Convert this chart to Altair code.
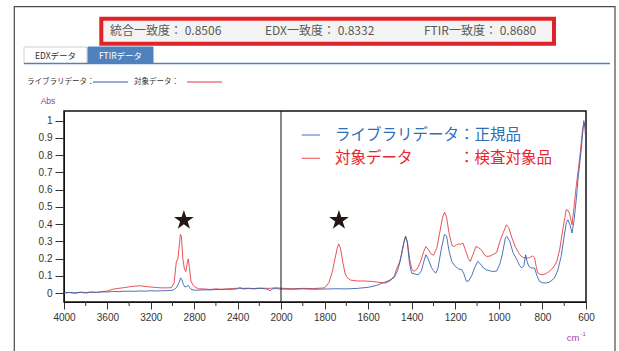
import altair as alt
import pandas as pd

# ---- spectra: wavenumber (cm-1) and absorbance ----
lib_wn = [4000, 3950, 3900, 3850, 3800, 3750, 3700, 3650, 3600, 3550, 3500, 3450, 3400,
          3350, 3300, 3250, 3200, 3150, 3100, 3050, 3000, 2980, 2960, 2940, 2925, 2915,
          2900, 2885, 2870, 2855, 2845, 2830, 2810, 2780, 2750, 2700, 2650, 2600, 2550,
          2500, 2450, 2400, 2380, 2350, 2300, 2250, 2200, 2150, 2120, 2100, 2080, 2050,
          2020, 2000, 1950, 1900, 1850, 1800, 1750, 1700, 1650, 1600, 1560, 1530, 1500,
          1480, 1465, 1455, 1445, 1435, 1428, 1420, 1410, 1400, 1385, 1370, 1355, 1345,
          1335, 1325, 1310, 1300, 1290, 1280, 1265, 1250, 1240, 1228, 1215, 1200, 1185,
          1170, 1160, 1150, 1140, 1125, 1110, 1097, 1085, 1070, 1057, 1040, 1025, 1010,
          995, 985, 970, 963, 950, 935, 920, 905, 895, 885, 877, 870, 862, 850, 836, 825,
          813, 800, 783, 765, 745, 730, 714, 700, 690, 683, 672, 664, 655, 645, 635, 622,
          615, 610, 605, 600]
lib_abs = [0.002, 0.004, 0.001, 0.005, 0.003, 0.006, 0.004, 0.007, 0.006, 0.009, 0.008,
           0.010, 0.011, 0.010, 0.012, 0.011, 0.013, 0.012, 0.013, 0.014, 0.016, 0.022,
           0.035, 0.060, 0.088, 0.080, 0.050, 0.035, 0.038, 0.045, 0.035, 0.022, 0.018,
           0.016, 0.017, 0.019, 0.018, 0.021, 0.020, 0.022, 0.021, 0.025, 0.028, 0.024,
           0.026, 0.024, 0.027, 0.025, 0.022, 0.012, 0.024, 0.026, 0.024, 0.023, 0.022,
           0.024, 0.022, 0.023, 0.025, 0.024, 0.027, 0.033, 0.045, 0.060, 0.075, 0.090,
           0.130, 0.175, 0.240, 0.300, 0.328, 0.290, 0.170, 0.115, 0.110, 0.105, 0.130,
           0.180, 0.222, 0.200, 0.150, 0.130, 0.115, 0.140, 0.250, 0.340, 0.330, 0.240,
           0.180, 0.155, 0.140, 0.135, 0.110, 0.070, 0.068, 0.100, 0.150, 0.183, 0.170,
           0.145, 0.135, 0.128, 0.125, 0.128, 0.170, 0.220, 0.320, 0.328, 0.300, 0.235,
           0.200, 0.160, 0.145, 0.160, 0.222, 0.180, 0.154, 0.145, 0.145, 0.100, 0.067,
           0.060, 0.058, 0.065, 0.087, 0.130, 0.212, 0.330, 0.410, 0.425, 0.390, 0.348,
           0.420, 0.540, 0.680, 0.830, 0.930, 1.000, 0.960, 0.870]

tgt_wn = [4000, 3950, 3900, 3850, 3800, 3750, 3700, 3650, 3600, 3550, 3500, 3450, 3400,
          3350, 3300, 3250, 3200, 3150, 3100, 3050, 3010, 2985, 2965, 2950, 2940, 2928,
          2918, 2905, 2890, 2878, 2865, 2855, 2845, 2830, 2810, 2795, 2760, 2700, 2650,
          2600, 2550, 2500, 2450, 2400, 2380, 2350, 2300, 2250, 2200, 2150, 2100, 2050,
          2000, 1950, 1900, 1850, 1800, 1780, 1765, 1752, 1742, 1735, 1727, 1715, 1705,
          1695, 1680, 1650, 1620, 1580, 1550, 1520, 1500, 1480, 1465, 1455, 1445, 1435,
          1428, 1420, 1410, 1400, 1390, 1375, 1360, 1345, 1335, 1325, 1310, 1300, 1285,
          1270, 1258, 1249, 1240, 1229, 1215, 1205, 1195, 1185, 1175, 1165, 1155, 1140,
          1131, 1120, 1105, 1095, 1080, 1065, 1055, 1040, 1025, 1010, 995, 980, 965, 955,
          940, 925, 910, 897, 885, 874, 860, 845, 836, 828, 821, 810, 798, 780, 765, 752,
          735, 721, 705, 691, 683, 676, 664, 655, 645, 630, 615, 607, 600]
tgt_abs = [0.000, 0.003, -0.002, 0.004, 0.000, 0.005, 0.003, 0.008, 0.012, 0.022, 0.027,
           0.031, 0.036, 0.040, 0.042, 0.038, 0.035, 0.032, 0.030, 0.030, 0.031, 0.060,
           0.180, 0.200, 0.260, 0.340, 0.330, 0.200, 0.140, 0.125, 0.170, 0.198, 0.150,
           0.070, 0.045, 0.035, 0.025, 0.023, 0.021, 0.024, 0.022, 0.024, 0.026, 0.028,
           0.031, 0.027, 0.028, 0.026, 0.029, 0.028, 0.027, 0.031, 0.028, 0.025, 0.027,
           0.026, 0.030, 0.060, 0.120, 0.200, 0.260, 0.285, 0.260, 0.170, 0.110, 0.088,
           0.075, 0.070, 0.070, 0.067, 0.062, 0.058, 0.070, 0.100, 0.155, 0.180, 0.230,
           0.300, 0.330, 0.300, 0.200, 0.140, 0.125, 0.140, 0.180, 0.240, 0.270, 0.255,
           0.225, 0.220, 0.260, 0.360, 0.440, 0.469, 0.440, 0.350, 0.275, 0.270, 0.280,
           0.285, 0.282, 0.290, 0.255, 0.200, 0.183, 0.220, 0.270, 0.265, 0.250, 0.220,
           0.212, 0.215, 0.225, 0.235, 0.300, 0.350, 0.396, 0.380, 0.320, 0.270, 0.235,
           0.212, 0.205, 0.203, 0.205, 0.215, 0.205, 0.150, 0.116, 0.108, 0.106, 0.115,
           0.130, 0.145, 0.180, 0.250, 0.380, 0.483, 0.480, 0.463, 0.396, 0.500, 0.618,
           0.772, 0.956, 0.985, 0.930]

series_colors = ["#2f5cab", "#e8343a"]

x_major = [4000, 3600, 3200, 2800, 2400, 2000, 1800, 1600, 1400, 1200, 1000, 800, 600]
x_minor = [3800, 3400, 3000, 2600, 2200, 1900, 1700, 1500, 1300, 1100, 900, 700]
y_ticks = [0, 0.1, 0.2, 0.3, 0.4, 0.5, 0.6, 0.7, 0.8, 0.9, 1]
split_wn = [2000]

star_wn = [2895, 1734]
star_abs = [0.422, 0.422]
STAR_PATH = ("M0,-1L0.2245,-0.309L0.951,-0.309L0.363,0.118L0.588,0.809L0,0.382"
             "L-0.588,0.809L-0.363,0.118L-0.951,-0.309L-0.2245,-0.309Z")

PLOT_W, PLOT_H = 522, 191
JP = "Noto Sans CJK JP"
NUM = "Liberation Sans"

lib_df = pd.DataFrame({"wn": lib_wn, "abs": lib_abs})
tgt_df = pd.DataFrame({"wn": tgt_wn, "abs": tgt_abs})

# wavenumber axis: 4000-2000 compressed to half the scale of 2000-600
x_enc = alt.X(
    "wn:Q",
    scale=alt.Scale(domain=[4000, 2000, 600], range=[0, 217, PLOT_W], nice=False, zero=False),
    axis=alt.Axis(values=x_major, format="d", title=None, grid=False, tickSize=7,
                  tickColor="#333", tickWidth=1, domainColor="#111", labelFont=NUM,
                  labelFontSize=10, labelColor="#333", labelPadding=3, labelOverlap=False,
                  labelFlush=False),
)
y_enc = alt.Y(
    "abs:Q",
    scale=alt.Scale(domain=[-0.052, 1.056], nice=False, zero=False),
    axis=alt.Axis(values=y_ticks, format=".1~f", title=None, grid=False, tickSize=9,
                  tickColor="#333", tickWidth=1, domainColor="#111", labelFont=NUM,
                  labelFontSize=10, labelColor="#333", labelPadding=3, labelOverlap=False),
)

# target drawn first, library on top
lines_red = alt.Chart(tgt_df).mark_line(
    strokeWidth=1, opacity=0.85, color=series_colors[1]).encode(x=x_enc, y=y_enc)
lines_blue = alt.Chart(lib_df).mark_line(
    strokeWidth=1, opacity=0.85, color=series_colors[0]).encode(x=x_enc, y=y_enc)

minor = alt.Chart(pd.DataFrame({"wn": x_minor})).mark_rule(color="#333", strokeWidth=1).encode(
    x=x_enc, y=alt.value(PLOT_H), y2=alt.value(PLOT_H + 4))

split = alt.Chart(pd.DataFrame({"wn": split_wn})).mark_rule(color="#111", strokeWidth=1).encode(
    x=x_enc, y=alt.value(0), y2=alt.value(PLOT_H))

stars = alt.Chart(pd.DataFrame({"wn": star_wn, "abs": star_abs})).mark_point(
    shape=STAR_PATH, filled=True, color="#231815", opacity=1, size=430).encode(x=x_enc, y=y_enc)

one = alt.Data(values=[{}])


def rect(x1, y1, x2, y2, **kw):
    return alt.Chart(one).mark_rect(**kw).encode(
        x=alt.value(x1), y=alt.value(y1), x2=alt.value(x2), y2=alt.value(y2))


def hline(x1, x2, y, color, width=1.0):
    return alt.Chart(one).mark_rule(color=color, strokeWidth=width).encode(
        x=alt.value(x1), x2=alt.value(x2), y=alt.value(y))


def label(x, y, txt, size, color, font=JP, align="left"):
    return alt.Chart(one).mark_text(
        text=txt, align=align, baseline="middle", font=font, fontSize=size,
        color=color).encode(x=alt.value(x), y=alt.value(y))


# window frame, score box, tabs and header legend (offsets relative to the plot origin)
ui = [
    rect(-49.7, -104.3, 551, 260, fillOpacity=0, stroke="#4a4a4a", strokeWidth=1.2),
    rect(37.3, -92.3, 490, -67.3, fill="#f3f3f3", stroke="#e02328", strokeWidth=4),
    label(46, -80, "統合一致度： 0.8506", 12, "#595959"),
    label(201, -80, "EDX一致度： 0.8332", 12, "#595959"),
    label(360, -80, "FTIR一致度： 0.8680", 12, "#595959"),
    rect(-40, -64, 23, -47.5, fill="#ffffff", stroke="#cfcfcf", strokeWidth=1),
    rect(24, -64, 89, -47.5, fill="#4f81bd", stroke="#4f81bd", strokeWidth=1),
    label(-8.5, -55.5, "EDXデータ", 8.5, "#333333", align="center"),
    label(56.5, -55.5, "FTIRデータ", 8.5, "#ffffff", align="center"),
    hline(-40, 546, -47.5, "#4f81bd", 1.5),
    label(-37, -29, "ライブラリデータ：", 7.5, "#333333"),
    hline(29, 64, -29, series_colors[0], 1),
    label(70, -29, "対象データ：", 7.5, "#333333"),
    hline(123, 158, -29, series_colors[1], 1),
    label(-23.3, -10, "Abs", 8.5, "#9b3d9f", font=NUM),
    label(502.7, 227, "cm", 9.5, "#a144a4", font=NUM),
    label(516.5, 223, "-1", 6, "#a144a4", font=NUM),
    # in-plot legend
    hline(237.7, 256, 24, "#5b8bd0", 1.2),
    label(271, 24, "ライブラリデータ", 15.5, "#2e6fb7"),
    label(395, 24, "：正規品", 15.5, "#2e6fb7"),
    hline(237.7, 256, 47.3, "#f06a6a", 1.2),
    label(271, 47.3, "対象データ", 15.5, "#e8262d"),
    label(395, 47.3, "：検査対象品", 15.5, "#e8262d"),
]

chart = alt.layer(
    lines_red, lines_blue, minor, split, stars, *ui
).properties(
    width=PLOT_W, height=PLOT_H,
    autosize=alt.AutoSizeParams(type="none"),
    padding={"left": 64, "top": 111, "right": 33, "bottom": 49},
).configure(background="#ffffff").configure_view(
    stroke="#111111", strokeWidth=1.5, fill="#ffffff"
)

chart.save("out.html", embed_options={"renderer": "svg", "actions": False})
